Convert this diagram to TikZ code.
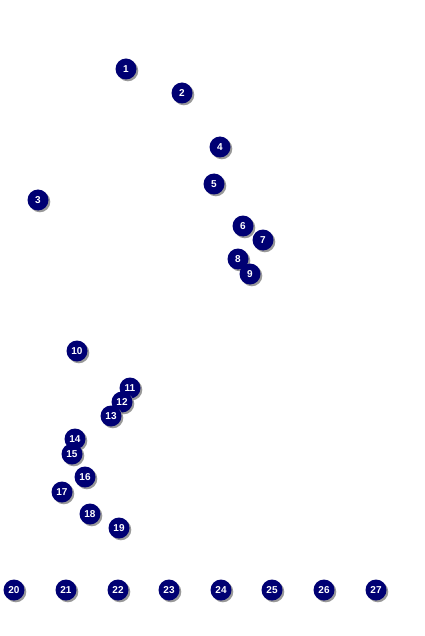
\documentclass[tikz,border=0pt]{standalone}
\usepackage{fontspec}
\setmainfont{Liberation Sans}
\usetikzlibrary{shadows}

\tikzset{
  marker/.style={circle, fill=blue!45!black, text=white, inner sep=0pt,
    minimum size=21pt, font=\fontsize{10}{10}\selectfont\bfseries,
    drop shadow={shadow xshift=1.8pt, shadow yshift=-1.8pt, fill=gray!80, opacity=1}}
}

\begin{document}
\begin{tikzpicture}[x=1pt,y=-1pt]
  \useasboundingbox (0,0) rectangle (424,636);
  % scattered markers
  \foreach \n/\x/\y in {1/126/69, 2/182/93, 3/38/200, 4/220/147, 5/214/184,
      6/243/226, 7/263/240, 8/238/259, 9/250/274, 10/77/351,
      11/130/388, 12/122/402, 13/111/416, 14/75/439, 15/72/454,
      16/85/477, 17/62/492, 18/90/514, 19/119/528}
    \node[marker] (m\n) at (\x,\y) {\n};
  % bottom row
  \foreach \n/\x in {20/14, 21/66, 22/118, 23/169, 24/221, 25/272, 26/324, 27/376}
    \node[marker] (m\n) at (\x,590) {\n};
\end{tikzpicture}
\end{document}
